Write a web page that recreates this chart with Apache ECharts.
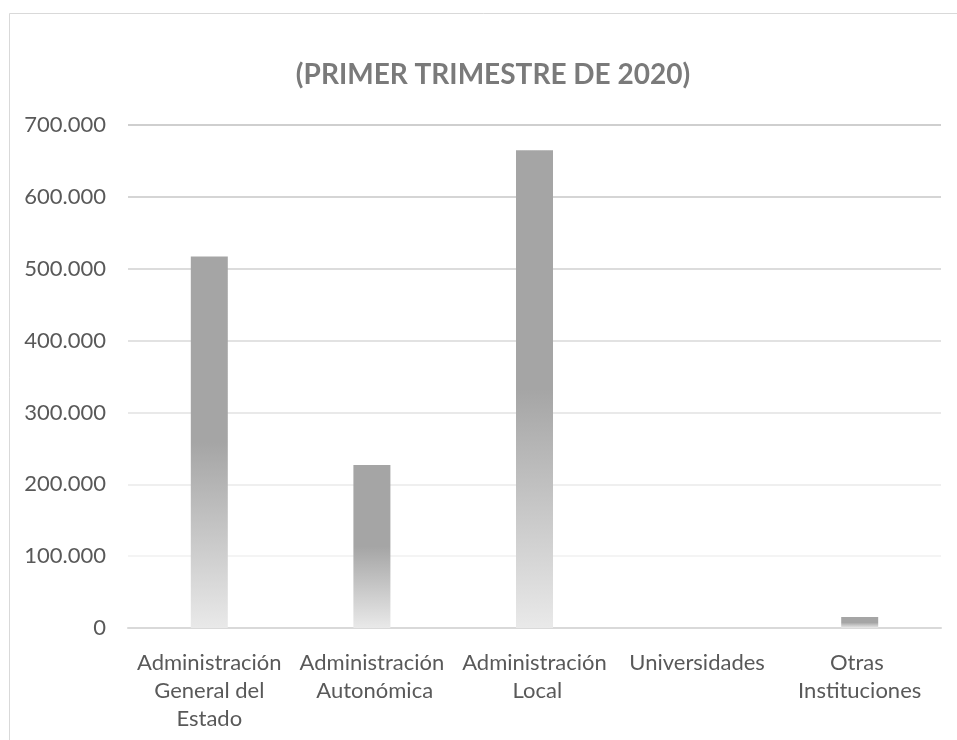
<!DOCTYPE html>
<html>
<head>
<meta charset="utf-8">
<script src="https://cdn.jsdelivr.net/npm/echarts@6/dist/echarts.min.js"></script>
<style>
html,body{margin:0;padding:0;background:#fff;}
#chart{width:957px;height:740px;}
</style>
</head>
<body>
<div id="chart"></div>
<script>
const titleText = '(PRIMER TRIMESTRE DE 2020)';
const categories = ['Administración General del Estado', 'Administración Autonómica', 'Administración Local', 'Universidades', 'Otras Instituciones'];
const values = [517000, 227000, 665000, 0, 15300];
const yTicks = [0, 100000, 200000, 300000, 400000, 500000, 600000, 700000];

const chart = echarts.init(document.getElementById('chart'), null, {renderer: 'canvas'});
const FONT = 'Lato';
const barGradient = new echarts.graphic.LinearGradient(0, 0, 0, 1, [
  {offset: 0, color: '#a5a5a5'},
  {offset: 0.5, color: '#a5a5a5'},
  {offset: 1, color: '#e9e9e9'}
]);
chart.setOption({
  animation: false,
  backgroundColor: '#ffffff',
  title: {
    text: titleText,
    left: 488,
    top: 56,
    textAlign: 'center',
    textStyle: {fontFamily: FONT, fontWeight: 'bold', fontSize: 28, color: '#7a7a7a'}
  },
  graphic: [{
    type: 'rect',
    shape: {x: 9.5, y: 13.5, width: 1200, height: 1200},
    style: {fill: 'none', stroke: '#d9d9d9', lineWidth: 1},
    silent: true,
    z: -1
  }],
  grid: {left: 128, right: 16, top: 125, bottom: 112, containLabel: false},
  xAxis: {
    type: 'category',
    data: categories,
    axisLine: {show: true, lineStyle: {color: '#d9d9d9', width: 2}},
    axisTick: {show: false},
    axisLabel: {
      interval: 0,
      margin: 21,
      width: 155,
      overflow: 'break',
      lineHeight: 28,
      fontFamily: FONT,
      fontSize: 22,
      color: '#595959'
    }
  },
  yAxis: {
    type: 'value',
    min: yTicks[0],
    max: yTicks[yTicks.length - 1],
    interval: yTicks[1] - yTicks[0],
    axisLine: {show: false},
    axisTick: {show: false},
    axisLabel: {
      margin: 22,
      fontFamily: FONT,
      fontSize: 22,
      color: '#595959',
      formatter: function (v) {
        return v === 0 ? '0' : v.toLocaleString('de-DE');
      }
    },
    splitLine: {
      show: true,
      lineStyle: {
        width: 1.5,
        color: ['#d9d9d9', '#f1f1f1', '#eaeaea', '#e2e2e2', '#d9d9d9', '#d0d0d0', '#c7c7c7', '#bfbfbf']
      }
    }
  },
  series: [{
    type: 'bar',
    data: values,
    barWidth: 37,
    itemStyle: {color: barGradient},
    z: 3
  }]
});
</script>
</body>
</html>
